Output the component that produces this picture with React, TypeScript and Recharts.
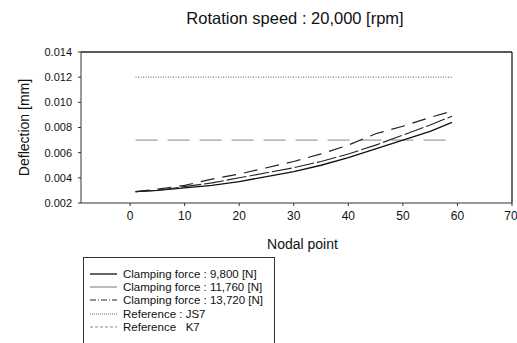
import React from 'react';
import { LineChart, Line, XAxis, YAxis, ReferenceLine, Legend } from 'recharts';

const nodes = [1, 5, 10, 15, 20, 25, 30, 35, 40, 45, 50, 55, 59];
const force9800 = [0.0029, 0.0030, 0.0032, 0.0034, 0.0037, 0.0041, 0.0045, 0.0050, 0.0056, 0.0063, 0.0070, 0.0077, 0.0084];
const force11760 = [0.0029, 0.0030, 0.0033, 0.0036, 0.0040, 0.0044, 0.0048, 0.0053, 0.0059, 0.0066, 0.0074, 0.0082, 0.0089];
const force13720 = [0.0029, 0.0031, 0.0034, 0.0039, 0.0043, 0.0048, 0.0053, 0.0059, 0.0066, 0.0075, 0.0081, 0.0088, 0.0093];

const refNodes = [1, 59];
const js7 = [0.012, 0.012];
const k7 = [0.007, 0.007];

const xTicks = [0, 10, 20, 30, 40, 50, 60, 70];
const yTicks = [0.002, 0.004, 0.006, 0.008, 0.01, 0.012, 0.014];

const curveData = nodes.map((n, i) => ({ node: n, f1: force9800[i], f2: force11760[i], f3: force13720[i] }));
const js7Data = refNodes.map((n, i) => ({ node: n, js7: js7[i] }));
const k7Data = refNodes.map((n, i) => ({ node: n, k7: k7[i] }));

const FONT = '"Liberation Sans", Arial, sans-serif';

const legendItems = [
  { label: 'Clamping force : 9,800 [N]', stroke: '#111', width: 1.3, dash: undefined },
  { label: 'Clamping force : 11,760 [N]', stroke: '#555', width: 0.8, dash: undefined },
  { label: 'Clamping force : 13,720 [N]', stroke: '#222', width: 1, dash: '6 2 1 2' },
  { label: 'Reference : JS7', stroke: '#666', width: 1, dash: '1 1' },
  { label: 'Reference   K7', stroke: '#888', width: 1, dash: '3 2' },
];

const LegendBox = () => (
  <div style={{ border: '1px solid #333', width: 192, height: 92, boxSizing: 'border-box', paddingTop: 9, paddingLeft: 5, background: '#fff' }}>
    {legendItems.map((it) => (
      <div key={it.label} style={{ display: 'flex', alignItems: 'center', height: 13.4, fontFamily: FONT, fontSize: 11.5, color: '#111', whiteSpace: 'pre' }}>
        <svg width={30} height={8} style={{ marginRight: 4 }}>
          <line x1={1} y1={4} x2={28} y2={4} stroke={it.stroke} strokeWidth={it.width} strokeDasharray={it.dash} />
        </svg>
        <span>{it.label}</span>
      </div>
    ))}
  </div>
);

const App: React.FC = () => (
  <div style={{ position: 'fixed', left: 0, top: 0, width: 517, height: 343, background: '#fff', overflow: 'hidden' }}>
    <div style={{ position: 'absolute', left: 0, width: 590, top: 9, textAlign: 'center', fontFamily: FONT, fontSize: 16.5, color: '#111' }}>
      Rotation speed : 20,000 [rpm]
    </div>
    <LineChart width={517} height={343} margin={{ top: 52, right: 5, left: 0, bottom: 108 }}>
      <XAxis
        dataKey="node"
        type="number"
        domain={[-9, 70]}
        ticks={xTicks}
        allowDataOverflow
        stroke="#333"
        tickSize={3}
        tickMargin={5}
        height={32}
        tick={{ fontFamily: FONT, fontSize: 12, fill: '#111' }}
        label={{ value: 'Nodal point', position: 'insideBottom', offset: -14, dx: 6, fontFamily: FONT, fontSize: 14, fill: '#111' }}
      />
      <YAxis
        type="number"
        domain={[0.002, 0.014]}
        ticks={yTicks}
        width={81}
        stroke="#333"
        tickSize={3}
        tickMargin={6}
        tickFormatter={(v: number) => v.toFixed(3)}
        tick={{ fontFamily: FONT, fontSize: 11, fill: '#111' }}
        label={{ value: 'Deflection [mm]', angle: -90, position: 'insideLeft', offset: 24, style: { textAnchor: 'middle' }, fontFamily: FONT, fontSize: 14, fill: '#111' }}
      />
      <ReferenceLine y={0.014} stroke="#222" strokeWidth={1.3} />
      <ReferenceLine x={70} stroke="#222" strokeWidth={1.3} />
      <Line data={js7Data} dataKey="js7" stroke="#555" strokeWidth={1} strokeDasharray="1 1.5" dot={false} isAnimationActive={false} />
      <Line data={k7Data} dataKey="k7" stroke="#888" strokeWidth={1} strokeDasharray="22 10" dot={false} isAnimationActive={false} />
      <Line data={curveData} dataKey="f1" stroke="#111" strokeWidth={1.3} dot={false} isAnimationActive={false} />
      <Line data={curveData} dataKey="f2" stroke="#222" strokeWidth={1.1} strokeDasharray="20 3" dot={false} isAnimationActive={false} />
      <Line data={curveData} dataKey="f3" stroke="#222" strokeWidth={1.2} strokeDasharray="14 8" dot={false} isAnimationActive={false} />
      <Legend
        layout="horizontal"
        align="center"
        verticalAlign="middle"
        wrapperStyle={{ left: 83, top: 257, width: 192 }}
        content={() => <LegendBox />}
      />
    </LineChart>
  </div>
);

export default App;
